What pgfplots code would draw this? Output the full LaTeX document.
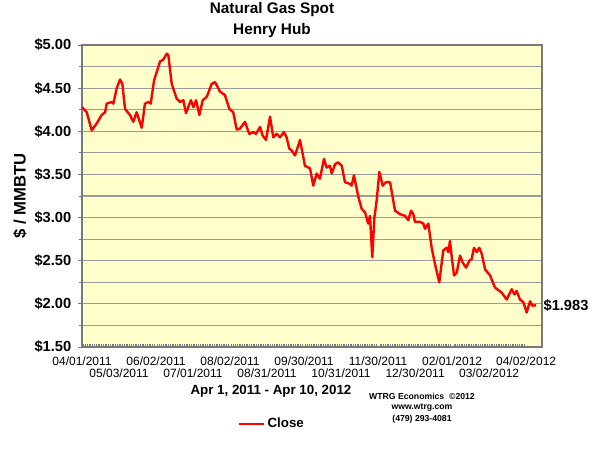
\documentclass[border=0pt]{standalone}
\usepackage{fontspec}
\setmainfont{Liberation Sans}
\usepackage{pgfplots}
\pgfplotsset{compat=1.18}

\definecolor{bgyellow}{RGB}{255,255,204}
\definecolor{gridgray}{RGB}{155,155,155}
\definecolor{framegray}{RGB}{120,120,120}

\begin{document}
\begin{tikzpicture}
% page is 600x450 px at 0.75pt per px
\useasboundingbox (0pt,0pt) rectangle (450pt,337.5pt);

\node[font=\fontsize{11.5}{14}\selectfont\bfseries] at (204pt,330pt) {Natural Gas Spot};
\node[font=\fontsize{11.5}{14}\selectfont\bfseries] at (204pt,314.25pt) {Henry Hub};
\node[font=\fontsize{12.5}{14}\selectfont\bfseries, rotate=90] at (15pt,190.5pt) {\$ / MMBTU};
\node[font=\fontsize{10}{12}\selectfont\bfseries] at (203.25pt,44pt) {Apr 1, 2011 - Apr 10, 2012};
\node[font=\fontsize{6.5}{8}\selectfont\bfseries] at (316.5pt,40.5pt) {WTRG Economics \ \textcopyright2012};
\node[font=\fontsize{6.5}{8}\selectfont\bfseries] at (316.5pt,31.5pt) {www.wtrg.com};
\node[font=\fontsize{6.5}{8}\selectfont\bfseries] at (316.5pt,23.25pt) {(479) 293-4081};

\begin{axis}[
    at={(61.5pt,77.25pt)}, anchor=south west,
    width=345pt, height=226.5pt, scale only axis,
    xmin=0, xmax=261,
    ymin=1.5, ymax=5,
    axis background/.style={fill=bgyellow},
    axis line style={framegray, line width=0.8pt},
    ytick={1.5,2,...,5},
    minor y tick num=1,
    ymajorgrids, yminorgrids,
    major grid style={gridgray, line width=0.9pt},
    minor grid style={gridgray, line width=0.9pt},
    tick align=outside,
    ytick pos=left, xtick pos=bottom,
    major tick length=3pt, minor tick length=2.25pt,
    tick style={framegray, line width=0.6pt},
    /pgf/number format/assume math mode=true,
    yticklabel={\$\pgfmathprintnumber[fixed,fixed zerofill,precision=2]{\tick}},
    yticklabel style={font=\fontsize{11}{12}\selectfont\bfseries, xshift=-1.5pt},
    xtick={0,42,84,126,168,210,252},
    xticklabels={04/01/2011,06/02/2011,08/02/2011,09/30/2011,11/30/2011,02/01/2012,04/02/2012},
    xticklabel style={font=\fontsize{9}{10}\selectfont, yshift=-0.5pt},
    extra x ticks={21,63,105,147,189,231},
    extra x tick labels={05/03/2011,07/01/2011,08/31/2011,10/31/2011,12/30/2011,03/02/2012},
    extra x tick style={xticklabel style={yshift=-9.5pt}},
    major x tick style={draw=none},
    minor x tick num=41,
    minor x tick style={draw=framegray, line width=0.5pt, yshift=2.25pt},
    legend style={at={(0.413,-0.255)}, anchor=center, draw=none, fill=none,
        font=\fontsize{10}{12}\selectfont\bfseries},
    legend image code/.code={\draw[#1] (0pt,0pt) -- (18.75pt,0pt);},
    clip=false,
]
\addplot[red, line width=1.8pt, line join=round] coordinates {
(0,4.28)(2.7,4.22)(5.5,4.01)(8.3,4.09)(11.2,4.19)(13.1,4.22)(14.0,4.32)
(16.9,4.34)(17.8,4.32)(19.7,4.50)(21.6,4.60)(22.9,4.55)(24.4,4.26)(27.2,4.19)
(29.1,4.11)(31.0,4.22)(33.9,4.04)(35.7,4.32)(37.6,4.34)(39.0,4.32)(40.9,4.59)
(44.3,4.81)(46.1,4.83)(48.1,4.90)(49.0,4.88)(50.9,4.55)(53.7,4.38)(55.6,4.34)
(57.5,4.36)(59.0,4.21)(61.8,4.36)(63.2,4.28)(64.7,4.36)(66.6,4.19)(68.5,4.36)
(70.8,4.40)(73.6,4.55)(75.5,4.57)(78.3,4.46)(81.1,4.42)(83.6,4.26)(85.8,4.22)
(87.8,4.02)(89.6,4.03)(92.5,4.11)(93.5,4.05)(94.9,3.97)(97.2,3.99)(98.7,3.97)
(101.0,4.05)(102.5,3.95)(104.4,3.90)(106.7,4.17)(108.5,3.93)(110.5,3.97)
(112.3,3.93)(114.6,3.99)(116.1,3.93)(117.6,3.80)(118.9,3.78)(120.9,3.72)
(123.7,3.90)(126.5,3.60)(129.4,3.57)(131.2,3.37)(133.2,3.51)(135.0,3.45)
(137.3,3.68)(138.8,3.58)(140.7,3.60)(141.7,3.51)(143.6,3.62)(145.4,3.64)
(147.4,3.60)(149.2,3.41)(152.1,3.39)(153.0,3.37)(154.3,3.49)(156.8,3.24)
(158.7,3.10)(160.6,3.06)(162.4,2.93)(163.4,3.02)(164.7,2.54)(165.9,3.00)
(167.2,3.20)(168.7,3.53)(170.6,3.37)(172.5,3.41)(174.8,3.41)(177.6,3.08)
(180.4,3.04)(183.3,3.02)(185.1,2.97)(186.7,3.08)(188.0,3.04)(188.9,2.95)
(191.8,2.95)(193.7,2.93)(194.6,2.87)(196.5,2.93)(198.4,2.65)(200.3,2.46)
(202.7,2.25)(205.0,2.62)(206.9,2.65)(207.8,2.60)(208.8,2.73)(209.8,2.54)
(211.1,2.33)(212.6,2.36)(214.5,2.56)(216.0,2.48)(217.9,2.42)(219.8,2.50)
(221.1,2.52)(222.4,2.65)(224.0,2.60)(225.4,2.65)(226.8,2.58)(228.7,2.40)
(231.5,2.33)(234.3,2.19)(238.1,2.13)(241.0,2.05)(243.8,2.17)(245.3,2.11)
(246.6,2.15)(248.5,2.05)(250.4,2.02)(252.3,1.90)(254.2,2.03)(255.5,1.98)
(257.6,1.983)
};
\addlegendentry{Close}
\node[anchor=west, font=\fontsize{11}{12}\selectfont\bfseries, inner sep=0pt]
    at (axis cs:261,1.983) {\kern1pt\$1.983};
\end{axis}
\end{tikzpicture}
\end{document}
